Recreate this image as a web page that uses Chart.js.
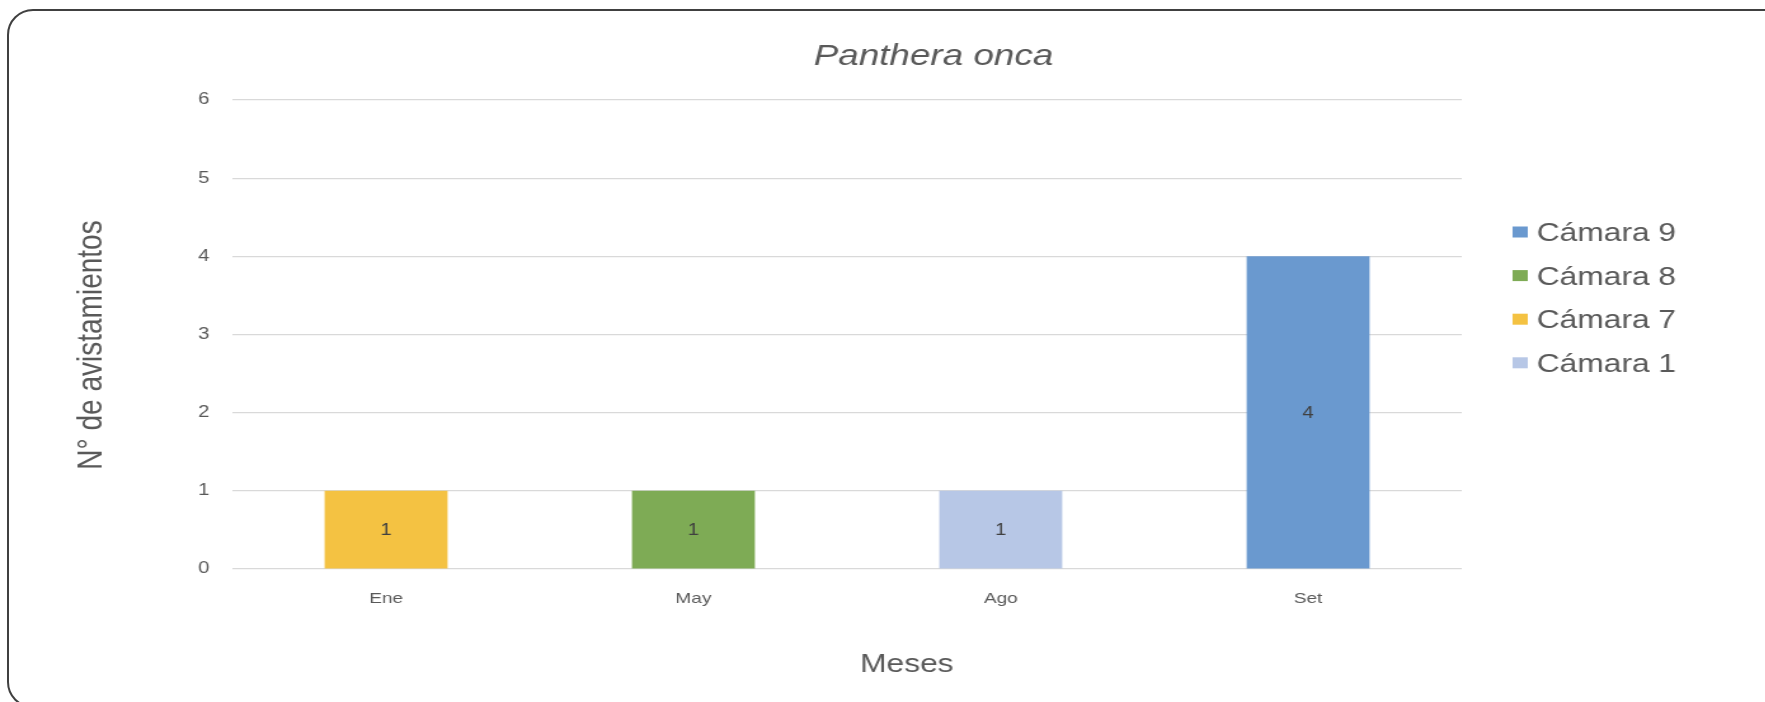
<!DOCTYPE html>
<html>
<head>
<meta charset="utf-8">
<script src="https://cdn.jsdelivr.net/npm/chart.js@4.4.0/dist/chart.umd.min.js"></script>
<style>
  html, body { margin: 0; padding: 0; background: #ffffff; overflow: hidden; }
  #frame { position: absolute; left: 7px; top: 9px; width: 1790px; height: 699px; box-sizing: border-box;
           border: 2px solid #404040; border-radius: 26px; }
  #wrap { position: absolute; left: 0; top: 0; width: 1390px; height: 702px;
          transform: scaleX(1.27); transform-origin: 0 0; }
</style>
</head>
<body>
<div id="frame"></div>
<div id="wrap"><canvas id="c" width="1390" height="702"></canvas></div>
<script>
const chartTitle = "Panthera onca";
const xTitle = "Meses";
const yTitle = "N° de avistamientos";
const categories = ["Ene", "May", "Ago", "Set"];
const seriesNames = ["Cámara 9", "Cámara 8", "Cámara 7", "Cámara 1"];
const camara9 = [null, null, null, 4];
const camara8 = [null, 1, null, null];
const camara7 = [1, null, null, null];
const camara1 = [null, null, 1, null];
const seriesValues = [camara9, camara8, camara7, camara1];
const seriesColors = ["#6A99CF", "#7EAB55", "#F4C242", "#B7C7E6"];
const yTicks = [0, 1, 2, 3, 4, 5, 6];

const FONT = "'Liberation Sans', Arial, sans-serif";

const overlay = {
  id: 'overlay',
  afterDatasetsDraw(chart) {
    const ctx = chart.ctx;
    ctx.save();
    ctx.font = "16px " + FONT;
    ctx.fillStyle = "#404040";
    ctx.textAlign = "center";
    ctx.textBaseline = "middle";
    chart.data.datasets.forEach((ds, di) => {
      const meta = chart.getDatasetMeta(di);
      meta.data.forEach((el, i) => {
        const v = ds.data[i];
        if (v === null || v === undefined) return;
        const p = el.getCenterPoint();
        ctx.fillText(String(v), p.x, p.y + 1);
      });
    });
    ctx.restore();
  },
  afterDraw(chart) {
    const ctx = chart.ctx;
    ctx.save();
    // title
    ctx.fillStyle = "#595959";
    ctx.textAlign = "center";
    ctx.textBaseline = "alphabetic";
    ctx.font = "italic 29px " + FONT;
    ctx.fillText(chartTitle, 735, 65);
    // x title
    ctx.font = "25px " + FONT;
    ctx.fillText(xTitle, 714, 672);
    // y title
    ctx.save();
    ctx.translate(80, 345);
    ctx.rotate(-Math.PI / 2);
    ctx.font = "28px " + FONT;
    ctx.fillText(yTitle, 0, 0);
    ctx.restore();
    // legend
    ctx.textAlign = "left";
    ctx.font = "25px " + FONT;
    chart.data.datasets.forEach((ds, i) => {
      const cy = 232 + i * 43.6;
      ctx.fillStyle = ds.backgroundColor;
      ctx.fillRect(1191, cy - 5.5, 12, 11);
      ctx.fillStyle = "#595959";
      ctx.fillText(ds.label, 1210, cy + 9);
    });
    ctx.restore();
  }
};

new Chart(document.getElementById('c'), {
  type: 'bar',
  data: {
    labels: categories,
    datasets: seriesNames.map((name, i) => ({
      label: name,
      data: seriesValues[i],
      backgroundColor: seriesColors[i],
      borderWidth: 0,
      barPercentage: 0.4,
      categoryPercentage: 1.0
    }))
  },
  options: {
    responsive: false,
    animation: false,
    devicePixelRatio: 1,
    layout: { padding: { left: 0, right: 239, top: 100, bottom: 0 } },
    plugins: { legend: { display: false }, title: { display: false }, tooltip: { enabled: false } },
    scales: {
      x: {
        stacked: true,
        grid: { display: false, drawTicks: false },
        border: { display: false },
        ticks: { color: "#595959", font: { family: FONT, size: 15 }, padding: 21 },
        afterFit: (s) => { s.height = 133; }
      },
      y: {
        stacked: true,
        min: 0, max: 6,
        afterBuildTicks: (s) => { s.ticks = yTicks.map(v => ({ value: v })); },
        grid: { color: "#D9D9D9", lineWidth: 1.2, drawTicks: false },
        border: { display: false },
        ticks: { color: "#595959", font: { family: FONT, size: 16 }, padding: 18 },
        afterFit: (s) => { s.width = 183; }
      }
    }
  },
  plugins: [overlay]
});
</script>
</body>
</html>
